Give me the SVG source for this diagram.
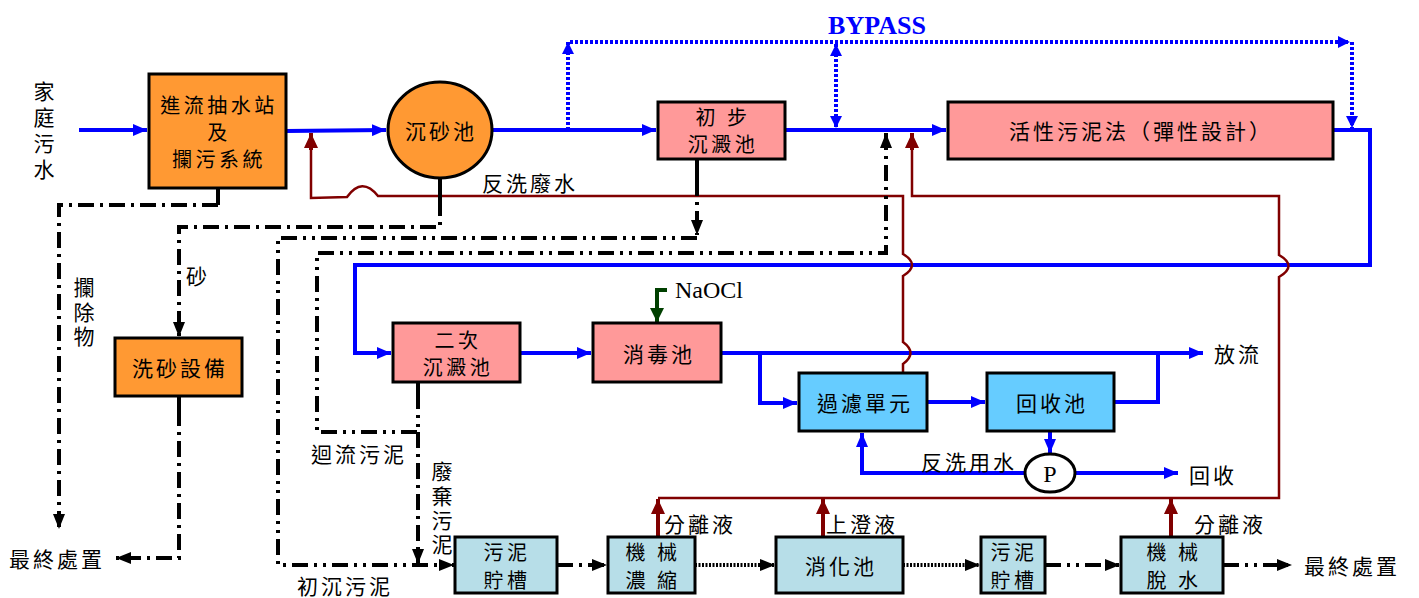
<svg xmlns="http://www.w3.org/2000/svg" width="1419" height="598" viewBox="0 0 1419 598">
<style>
.t{font-family:"Noto Sans CJK TC","Noto Sans CJK SC",sans-serif;font-size:21px;letter-spacing:3px;fill:#000;text-anchor:middle;dominant-baseline:central}
.t2{font-size:20px;letter-spacing:3.5px}
.lt{font-family:"Noto Sans CJK TC","Noto Sans CJK SC",sans-serif;font-size:21px;letter-spacing:3px;fill:#000;dominant-baseline:central}
.vt{font-family:"Noto Sans CJK TC","Noto Sans CJK SC",sans-serif;font-size:21px;fill:#000;writing-mode:vertical-rl}
.en{font-family:"Liberation Serif",serif;font-size:24px;fill:#000;dominant-baseline:central}
.box{stroke:#000;stroke-width:3}
.org{fill:#FF9933}
.pnk{fill:#FF9999}
.cyn{fill:#66CCFF}
.tea{fill:#B7DEE8}
.bl{fill:none;stroke:#0000FF;stroke-width:4}
.bp{fill:none;stroke:#0000FF;stroke-width:4;stroke-dasharray:3 2}
.rd{fill:none;stroke:#800000;stroke-width:2.5}
.ra{fill:none;stroke:#800000;stroke-width:4}
.sk{fill:none;stroke:#000;stroke-width:4}
.dd{fill:none;stroke:#000;stroke-width:4;stroke-dasharray:16 6 3 6}
.ddd{fill:none;stroke:#000;stroke-width:4;stroke-dasharray:16 6 3 6 3 6}
.dot{fill:none;stroke:#000;stroke-width:4;stroke-dasharray:2 1.5}
</style>
<defs>
<marker id="ab" markerUnits="userSpaceOnUse" markerWidth="14" markerHeight="12" refX="14" refY="6" orient="auto"><path d="M0,0 L14,6 L0,12 z" fill="#0000FF"/></marker>
<marker id="abp" markerUnits="userSpaceOnUse" markerWidth="12" markerHeight="12" refX="12" refY="6" orient="auto-start-reverse"><path d="M0,0 L12,6 L0,12 z" fill="#0000FF"/></marker>
<marker id="ak" markerUnits="userSpaceOnUse" markerWidth="15" markerHeight="12" refX="15" refY="6" orient="auto"><path d="M0,0 L15,6 L0,12 z" fill="#000"/></marker>
<marker id="ar" markerUnits="userSpaceOnUse" markerWidth="15" markerHeight="14" refX="15" refY="7" orient="auto"><path d="M0,0 L15,7 L0,14 z" fill="#800000"/></marker>
<marker id="ag" markerUnits="userSpaceOnUse" markerWidth="14" markerHeight="14" refX="14" refY="7" orient="auto"><path d="M0,0 L14,7 L0,14 z" fill="#004000"/></marker>
</defs>

<g id="connectors">
<path class="bl" d="M79,130 L147,130" marker-end="url(#ab)"/>
<path class="bl" d="M286,131 L386,130" marker-end="url(#ab)"/>
<path class="bl" d="M492,130 L656,130" marker-end="url(#ab)"/>
<path class="bl" d="M785,130 L946,130" marker-end="url(#ab)"/>
<path class="bl" d="M1333,130 L1370,130 L1370,265 L355,265 L355,353 L391,353" marker-end="url(#ab)"/>
<path class="bl" d="M520,353 L591,353" marker-end="url(#ab)"/>
<path class="bl" d="M721,353 L1203,353" marker-end="url(#ab)"/>
<path class="bl" d="M760,353 L760,403 L797,403" marker-end="url(#ab)"/>
<path class="bl" d="M927,402 L985,402" marker-end="url(#ab)"/>
<path class="bl" d="M1114,402 L1158,402 L1158,353"/>
<path class="bl" d="M1050,431 L1050,453" marker-end="url(#ab)"/>
<path class="bl" d="M1075,473 L1178,473" marker-end="url(#ab)"/>
<path class="bl" d="M1025,473 L862,473 L862,433" marker-end="url(#ab)"/>
<path class="bp" d="M568,130 L568,42" marker-end="url(#abp)"/>
<path class="bp" d="M570,42 L1350,42" marker-end="url(#abp)"/>
<path class="bp" d="M1352,42 L1352,128" marker-end="url(#abp)"/>
<path class="bp" d="M836,44 L836,128" marker-start="url(#abp)" marker-end="url(#abp)"/>
<path d="M667,290 L657,290 L657,322" fill="none" stroke="#004000" stroke-width="4" marker-end="url(#ag)"/>
<path class="rd" d="M903,373 L903,364 Q918,353 903,342 L903,276 Q921,265 903,254 L903,196 L378,196 Q362,176 347,197 L311,198 L311,146"/>
<path class="ra" d="M311,150 L311,133" marker-end="url(#ar)"/>
<path class="rd" d="M658,498 L1279,498 L1279,277 Q1298,266 1279,255 L1279,196 L912,196 L912,146"/>
<path class="ra" d="M912,150 L912,133" marker-end="url(#ar)"/>
<path class="ra" d="M658,537 L658,499" marker-end="url(#ar)"/>
<path class="ra" d="M823,537 L823,499" marker-end="url(#ar)"/>
<path class="ra" d="M1171,537 L1171,499" marker-end="url(#ar)"/>
<path class="sk" d="M218,188 L218,205"/>
<path class="dd" d="M218,205 L59,205 L59,529" marker-end="url(#ak)"/>
<path class="sk" d="M440,177 L440,200"/>
<path class="dd" d="M440,200 L440,227 L179,227 L179,337" marker-end="url(#ak)"/>
<path class="sk" d="M179,396 L179,410"/>
<path class="dd" d="M179,410 L179,558 L116,558" marker-end="url(#ak)"/>
<path class="sk" d="M697,159 L697,180"/>
<path class="dd" d="M697,180 L697,235" marker-end="url(#ak)"/>
<path class="ddd" d="M697,238 L278,238 L278,565 L454,565" marker-end="url(#ak)"/>
<path class="sk" d="M418,382 L418,393"/>
<path class="ddd" d="M418,393 L418,432 L317,432 L317,253 L886,253 L886,133" marker-end="url(#ak)"/>
<path class="dd" d="M418,432 L418,564" marker-end="url(#ak)"/>
<path class="dd" d="M557,565 L607,565" marker-end="url(#ak)"/>
<path class="dot" d="M695,565 L775,565" marker-end="url(#ak)"/>
<path class="dot" d="M903,565 L980,565" marker-end="url(#ak)"/>
<path class="ddd" d="M1045,565 L1120,565" marker-end="url(#ak)"/>
<path class="ddd" d="M1223,565 L1292,565" marker-end="url(#ak)"/>
</g>

<g id="n-intake"><rect class="box org" x="149" y="74" width="137" height="114"/>
<text class="t t2" x="219" y="104">進流抽水站<tspan x="219" dy="27">及</tspan><tspan x="219" dy="27">攔污系統</tspan></text></g>
<g id="n-grit"><ellipse class="box org" cx="440" cy="130" rx="52" ry="48"/><text class="t" x="441" y="130">沉砂池</text></g>
<g id="n-primary"><rect class="box pnk" x="658" y="102" width="127" height="57"/>
<text class="t t2" x="723" y="116">初  步<tspan x="723" dy="27">沉澱池</tspan></text></g>
<g id="n-as"><rect class="box pnk" x="948" y="102" width="385" height="57"/>
<text class="t" x="1141" y="130">活性污泥法（彈性設計）</text></g>
<g id="n-gritwash"><rect class="box org" x="115" y="338" width="127" height="58"/><text class="t" x="180" y="367">洗砂設備</text></g>
<g id="n-secondary"><rect class="box pnk" x="393" y="323" width="127" height="59"/>
<text class="t t2" x="458" y="339">二次<tspan x="458" dy="27">沉澱池</tspan></text></g>
<g id="n-disinfect"><rect class="box pnk" x="593" y="323" width="128" height="59"/><text class="t" x="659" y="353">消毒池</text></g>
<g id="n-filter"><rect class="box cyn" x="799" y="373" width="128" height="58"/><text class="t" x="865" y="402">過濾單元</text></g>
<g id="n-recovery"><rect class="box cyn" x="987" y="373" width="127" height="58"/><text class="t" x="1052" y="402">回收池</text></g>
<g id="n-pump"><ellipse cx="1050" cy="473" rx="25" ry="19" fill="#fff" stroke="#000" stroke-width="3"/><text class="en" x="1050" y="474" text-anchor="middle">P</text></g>
<g id="n-store1"><rect class="box tea" x="455" y="537" width="102" height="56"/>
<text class="t t2" x="507" y="551">污泥<tspan x="507" dy="28">貯槽</tspan></text></g>
<g id="n-thick"><rect class="box tea" x="608" y="537" width="87" height="56"/>
<text class="t t2" x="653" y="551">機 械<tspan x="653" dy="28">濃 縮</tspan></text></g>
<g id="n-digest"><rect class="box tea" x="776" y="537" width="127" height="56"/><text class="t" x="841" y="565">消化池</text></g>
<g id="n-store2"><rect class="box tea" x="981" y="537" width="64" height="56"/>
<text class="t t2" x="1014" y="551" letter-spacing="0">污泥<tspan x="1014" dy="28">貯槽</tspan></text></g>
<g id="n-dewater"><rect class="box tea" x="1121" y="537" width="102" height="56"/>
<text class="t t2" x="1174" y="551">機 械<tspan x="1174" dy="28">脫 水</tspan></text></g>

<g id="labels">
<text class="vt" x="44" y="81" letter-spacing="5">家庭污水</text>
<text class="vt" x="84" y="277" letter-spacing="3.5">攔除物</text>
<text class="lt" x="186" y="275">砂</text>
<text class="lt" x="482" y="182">反洗廢水</text>
<text x="877" y="25" font-family="Liberation Serif,serif" font-size="26" font-weight="bold" fill="#0000FF" text-anchor="middle" dominant-baseline="central">BYPASS</text>
<text class="en" x="675" y="290">NaOCl</text>
<text class="lt" x="1214" y="353">放流</text>
<text class="lt" x="921" y="461">反洗用水</text>
<text class="lt" x="1189" y="474">回收</text>
<text class="lt" x="311" y="453">迴流污泥</text>
<text class="vt" x="442" y="461" letter-spacing="3.3">廢棄污泥</text>
<text class="lt" x="297" y="585">初沉污泥</text>
<text class="lt" x="9" y="558">最終處置</text>
<text class="lt" x="1304" y="565">最終處置</text>
<text class="lt" x="664" y="523">分離液</text>
<text class="lt" x="826" y="523">上澄液</text>
<text class="lt" x="1194" y="523">分離液</text>
</g>
</svg>
